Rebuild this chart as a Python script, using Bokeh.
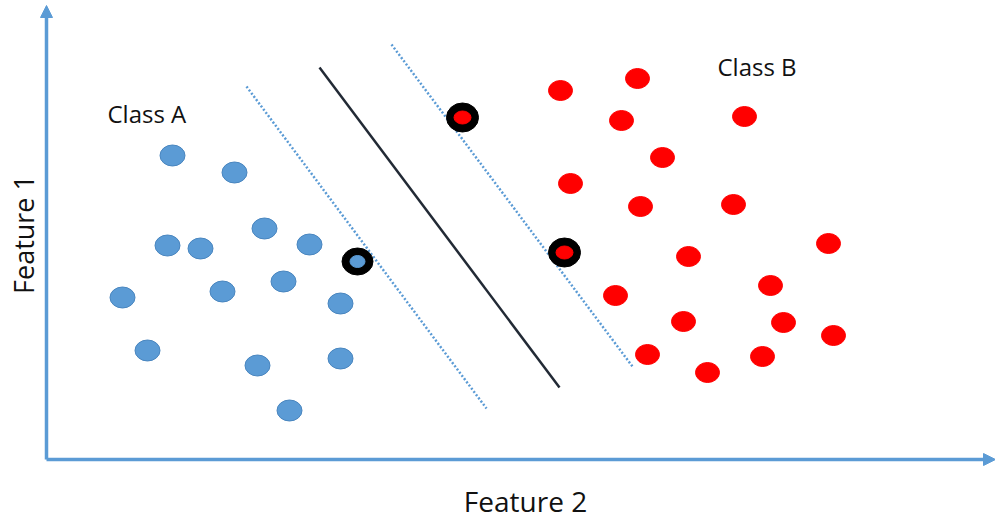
import math
from bokeh.plotting import figure
from bokeh.models import Range1d, Arrow, NormalHead
from bokeh.core.properties import value
from bokeh.embed import file_html
from bokeh.resources import INLINE

# ---- data (Feature 2 on x, Feature 1 on y) ----
class_a_x = [1.26, 1.88, 1.21, 1.54, 2.18, 2.63, 0.76, 1.76, 2.37, 2.94, 1.01, 2.11, 2.94, 2.43]
class_a_y = [6.08, 5.74, 4.28, 4.22, 4.62, 4.30, 3.24, 3.36, 3.56, 3.12, 2.18, 1.88, 2.02, 0.98]
class_b_x = [5.14, 5.91, 5.75, 6.98, 6.16, 5.24, 5.94, 6.87, 7.82, 6.42, 5.69, 7.24, 6.37, 7.37, 7.87, 6.01, 6.61, 7.16]
class_b_y = [7.38, 7.62, 6.78, 6.86, 6.04, 5.52, 5.06, 5.10, 4.32, 4.06, 3.28, 3.48, 2.76, 2.74, 2.48, 2.10, 1.74, 2.06]
sv_a_x = [3.11]
sv_a_y = [3.96]
sv_b_x = [4.16, 5.18]
sv_b_y = [6.84, 4.14]
hyperplane_x = [2.73, 5.13]
hyperplane_y = [7.84, 1.44]
margin_a_x = [2.00, 4.40]
margin_a_y = [7.46, 1.02]
margin_b_x = [3.45, 5.86]
margin_b_y = [8.30, 1.86]
class_labels = ["Class A", "Class B"]
class_label_x = [0.61, 6.71]
class_label_y = [6.92, 7.86]
x_axis_label = "Feature 2"
y_axis_label = "Feature 1"

BLUE = "#5b9bd5"
BLUE_EDGE = "#4a86bf"
RED = "#ff0000"
FONT = value("Open Sans")

p = figure(width=995, height=520, output_backend="svg", toolbar_location=None,
           x_range=Range1d(-0.46, 9.49), y_range=Range1d(-1.22, 9.18),
           min_border=0, outline_line_color=None)
p.xaxis.visible = False
p.yaxis.visible = False
p.grid.visible = False
p.background_fill_color = "white"

# axes as arrows
p.add_layout(Arrow(end=NormalHead(size=12, fill_color=BLUE, line_color=BLUE, line_width=1),
                   x_start=0, y_start=0, x_end=0, y_end=9.08,
                   line_color=BLUE, line_width=3.5))
p.add_layout(Arrow(end=NormalHead(size=12, fill_color=BLUE, line_color=BLUE, line_width=1),
                   x_start=0, y_start=0, x_end=9.49, y_end=0,
                   line_color=BLUE, line_width=3.5))

# margins and hyperplane
p.line(margin_a_x, margin_a_y, line_color=BLUE, line_width=2.5, line_dash="2 2")
p.line(margin_b_x, margin_b_y, line_color=BLUE, line_width=2.5, line_dash="2 2")
p.line(hyperplane_x, hyperplane_y, line_color="#222a35", line_width=2.5)

# points
p.ellipse(class_a_x, class_a_y, width=25, height=21, width_units="screen", height_units="screen",
          fill_color=BLUE, line_color=BLUE_EDGE, line_width=1)
p.ellipse(class_b_x, class_b_y, width=24, height=20, width_units="screen", height_units="screen",
          fill_color=RED, line_color=RED, line_width=1)

# support vectors
p.ellipse(sv_a_x, sv_a_y, width=31, height=27, width_units="screen", height_units="screen",
          fill_color="black", line_color="black")
p.ellipse(sv_a_x, sv_a_y, width=15, height=12, width_units="screen", height_units="screen",
          fill_color=BLUE, line_color=BLUE)
p.ellipse(sv_b_x, sv_b_y, width=32, height=29, width_units="screen", height_units="screen",
          fill_color="black", line_color="black")
p.ellipse(sv_b_x, sv_b_y, width=17, height=13, width_units="screen", height_units="screen",
          fill_color=RED, line_color=RED)

# texts
p.text(class_label_x, class_label_y, text=class_labels, text_font=FONT, text_font_size="24px",
       text_color="#111111", text_align="left", text_baseline="middle")
p.text([4.79], [-0.82], text=[x_axis_label], text_font=FONT, text_font_size="28px",
       text_color="#111111", text_align="center", text_baseline="middle")
p.text([-0.23], [4.5], text=[y_axis_label], text_font=FONT, text_font_size="27px",
       text_color="#111111", text_align="center", text_baseline="middle", angle=math.pi / 2)

open("out.html", "w").write(file_html(p, INLINE))
